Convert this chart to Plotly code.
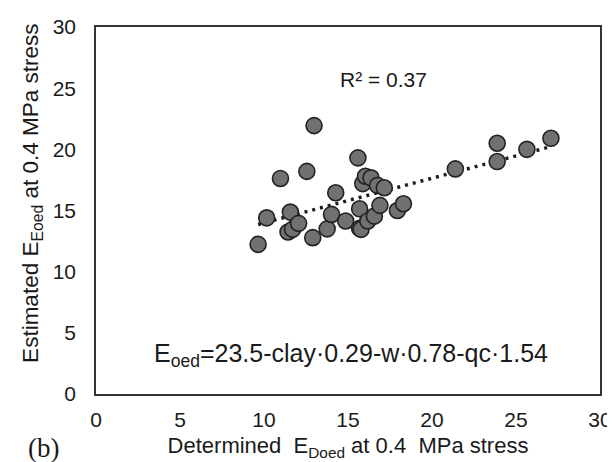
import numpy as np
import plotly.graph_objects as go

# Determined E_Doed (x) and estimated E_Eoed (y), MPa
determined = [9.65, 10.16, 10.98, 11.43, 11.57, 11.70, 12.06, 12.55, 12.90, 12.98,
              13.76, 14.02, 14.27, 14.86, 15.59, 15.69, 15.69, 15.78, 15.88, 16.04,
              16.18, 16.37, 16.57, 16.76, 16.90, 17.16, 17.94, 18.30, 21.39, 23.88,
              23.88, 25.65, 27.08]
estimated = [12.23, 14.40, 17.62, 13.24, 14.87, 13.46, 13.95, 18.20, 12.78, 21.94,
             13.50, 14.68, 16.45, 14.14, 19.30, 15.14, 13.54, 13.46, 17.20, 17.80,
             14.14, 17.67, 14.54, 17.05, 15.42, 16.86, 15.00, 15.55, 18.40, 20.50,
             19.00, 20.00, 20.90]

x_ticks = [0, 5, 10, 15, 20, 25, 30]
y_ticks = [0, 5, 10, 15, 20, 25, 30]

r2_label = "R² = 0.37"
equation_label = "E<sub>oed</sub>=23.5-clay·0.29-w·0.78-qc·1.54"
x_title = "Determined  E<sub>Doed</sub> at 0.4  MPa stress"
y_title = "Estimated E<sub>Eoed</sub> at 0.4 MPa stress"
panel_label = "(b)"

xa = np.array(determined)
ya = np.array(estimated)
slope, intercept = np.polyfit(xa, ya, 1)
trend_x = [xa.min(), xa.max()]
trend_y = [slope * v + intercept for v in trend_x]

FONT = "Liberation Sans, Arial, sans-serif"
INK = "#1a1a1a"

fig = go.Figure()
fig.add_trace(go.Scatter(
    x=trend_x, y=trend_y, mode="lines",
    line=dict(color="#1e1e1e", width=3.5, dash="3px,5px"),
    hoverinfo="skip", showlegend=False))
fig.add_trace(go.Scatter(
    x=determined, y=estimated, mode="markers",
    marker=dict(size=16, color="#717174", line=dict(color="#222222", width=1.6)),
    showlegend=False))

fig.add_annotation(x=17.1, y=25.7, text=r2_label, showarrow=False,
                   font=dict(family=FONT, size=21, color=INK))
fig.add_annotation(x=15.2, y=3.2, text=equation_label, showarrow=False,
                   font=dict(family=FONT, size=25, color=INK))
fig.add_annotation(xref="paper", yref="paper", x=-0.139, y=-0.147,
                   xanchor="left", yanchor="middle", text=panel_label, showarrow=False,
                   font=dict(family="Liberation Serif, Times New Roman, serif", size=27, color=INK))
fig.add_annotation(xref="paper", yref="paper", x=-0.127, y=0.548,
                   xanchor="center", yanchor="middle", textangle=-90,
                   text=y_title, showarrow=False,
                   font=dict(family=FONT, size=22.5, color=INK))

axis_common = dict(showline=True, linecolor="#333333", linewidth=1.6, mirror=True,
                   showgrid=False, zeroline=False, ticks="", automargin=False,
                   tickfont=dict(family=FONT, size=21, color=INK))

fig.update_xaxes(range=[0, 30], tickvals=x_ticks, ticklabelstandoff=6,
                 title=dict(text=x_title, standoff=8,
                            font=dict(family=FONT, size=22, color=INK)),
                 **axis_common)
fig.update_yaxes(range=[0, 30], tickvals=y_ticks, ticklabelstandoff=14,
                 **axis_common)

fig.update_layout(width=615, height=462, margin=dict(l=88, r=23, t=19, b=76),
                  plot_bgcolor="white", paper_bgcolor="white",
                  font=dict(family=FONT))

fig.write_html("out.html")
